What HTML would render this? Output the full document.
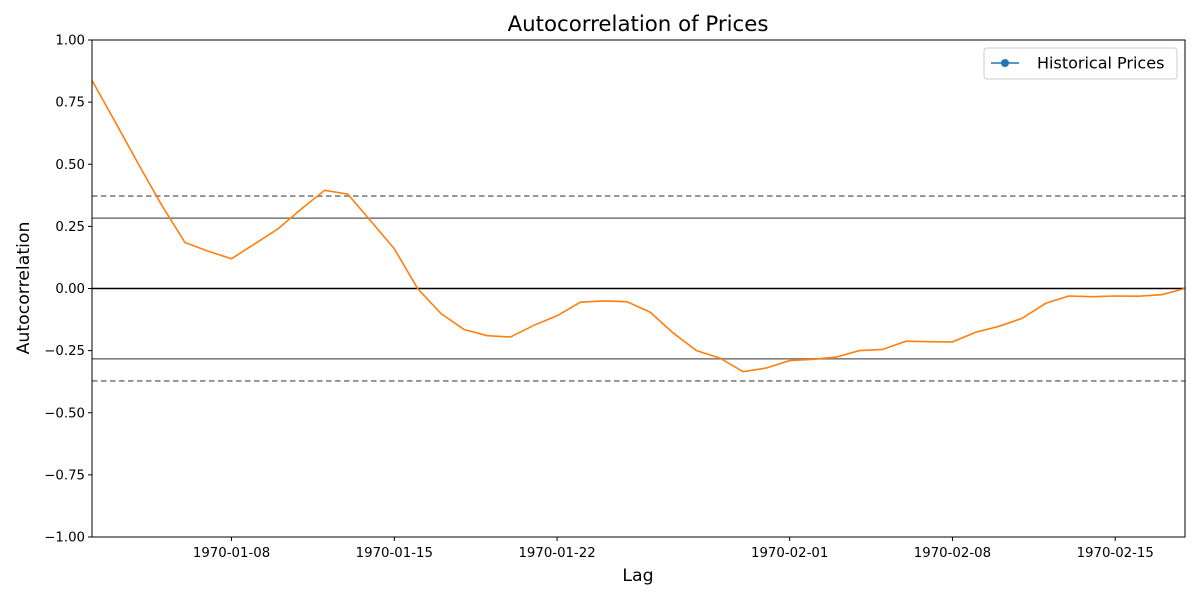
<!DOCTYPE html>
<html><head><meta charset="utf-8"><style>
body{margin:0;background:#fff}
svg{display:block;font-family:"DejaVu Sans","Liberation Sans",sans-serif}
</style></head><body>
<svg id="chart" width="1200" height="600">
<text x="638" y="31" font-size="21.3" text-anchor="middle">Autocorrelation of Prices</text>
<g id="grid"></g>
<g id="axes"></g>
<path id="line" fill="none" stroke="#ff7f0e" stroke-width="1.6"></path>
<rect x="92" y="40" width="1093" height="497" fill="none" stroke="#000" stroke-width="1"/>
<text x="638" y="581" font-size="17.3" text-anchor="middle">Lag</text>
<text x="29" y="288" font-size="17.3" text-anchor="middle" transform="rotate(-90 29 288)">Autocorrelation</text>
<g>
<rect x="984" y="48" width="193" height="31" rx="3" fill="#fff" stroke="#ccc"/>
<line x1="991" y1="63" x2="1019" y2="63" stroke="#1f77b4" stroke-width="1.6"/>
<circle cx="1005" cy="63" r="4" fill="#1f77b4"/>
<text x="1037" y="68.5" font-size="16">Historical Prices</text>
</g>
</svg>
<script>
const lags=[1,2,3,4,5,6,7,8,9,10,11,12,13,14,15,16,17,18,19,20,21,22,23,24,25,26,27,28,29,30,31,32,33,34,35,36,37,38,39,40,41,42,43,44,45,46,47,48];
const acf=[0.837,0.67,0.50,0.335,0.185,0.15,0.12,0.18,0.24,0.32,0.395,0.38,0.27,0.16,0.0,-0.10,-0.165,-0.19,-0.195,-0.148,-0.11,-0.055,-0.05,-0.053,-0.095,-0.18,-0.25,-0.28,-0.335,-0.32,-0.29,-0.285,-0.276,-0.25,-0.245,-0.212,-0.214,-0.215,-0.176,-0.152,-0.12,-0.06,-0.03,-0.033,-0.03,-0.031,-0.025,0.0];
const yTicks=[-1,-0.75,-0.5,-0.25,0,0.25,0.5,0.75,1];
const yTickLabels=["\u22121.00","\u22120.75","\u22120.50","\u22120.25","0.00","0.25","0.50","0.75","1.00"];
const xTicks=[7,14,21,31,38,45];
const xTickLabels=["1970-01-08","1970-01-15","1970-01-22","1970-02-01","1970-02-08","1970-02-15"];
const nObs=48;
const NS='http://www.w3.org/2000/svg';
const X=v=>92+(v-1)*(1093/47);
const Y=v=>288.5-v*248.5;
function mk(tag,attrs,parent){const e=document.createElementNS(NS,tag);for(const k in attrs)e.setAttribute(k,attrs[k]);parent.appendChild(e);return e;}
const grid=document.getElementById('grid'),axes=document.getElementById('axes');
const z95=1.959964/Math.sqrt(nObs),z99=2.575829/Math.sqrt(nObs);
[[z99,'5.5,3.5'],[z95,null],[-z95,null],[-z99,'5.5,3.5']].forEach(([v,d],i)=>{
  const l=mk('line',{x1:92,x2:1185,y1:Y(v),y2:Y(v),stroke:'#808080','stroke-width':1.6},grid);
  if(d)l.setAttribute('stroke-dasharray',d);
  
  
});
const zl=mk('line',{x1:92,x2:1185,y1:Y(0),y2:Y(0),stroke:'#000','stroke-width':1.6},grid);


yTicks.forEach((v,i)=>{
  const t=mk('line',{x1:88,x2:92,y1:Y(v),y2:Y(v),stroke:'#000'},axes);
  
  
  const tx=mk('text',{x:85,y:Y(v)+4.5,'font-size':13.3,'text-anchor':'end'},axes);
  tx.textContent=yTickLabels[i];
  
  
});
xTicks.forEach((v,i)=>{
  const x=92+(v-1)*(1093/47);
  const t=mk('line',{x1:x,x2:x,y1:537,y2:541,stroke:'#000'},axes);
  
  
  const tx=mk('text',{x:x,y:557,'font-size':13.3,'text-anchor':'middle'},axes);
  tx.textContent=xTickLabels[i];
  
  
});
document.getElementById('line').setAttribute('d',lags.map((l,i)=>(i?'L':'M')+X(l).toFixed(1)+','+Y(acf[i]).toFixed(1)).join(''));
</script>
</body></html>
